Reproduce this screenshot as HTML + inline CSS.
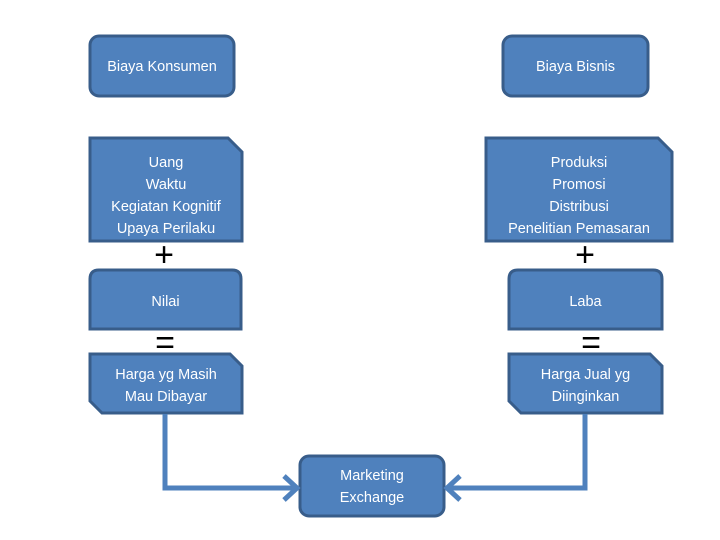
<!DOCTYPE html>
<html><head><style>
body{margin:0;width:720px;height:540px;background:#fff;position:relative;overflow:hidden;font-family:"Liberation Sans",sans-serif}
.t{position:absolute;display:flex;align-items:center;justify-content:center;text-align:center;color:#fff;font-size:14.5px;line-height:22px}
.op{position:absolute;font-size:34px;font-weight:normal;color:#000;line-height:30px;width:30px;text-align:center}
</style></head><body>
<svg width="720" height="540" style="position:absolute;left:0;top:0">
<g fill="#4f81bd" stroke="#385d8a" stroke-width="3">
<rect x="90" y="36" width="144" height="60" rx="9"/>
<rect x="503" y="36" width="145" height="60" rx="9"/>
<path d="M90 138 H228 L242 152 V241 H90 Z"/>
<path d="M486 138 H658 L672 152 V241 H486 Z"/>
<path d="M90 329 V279 Q90 270 99 270 H232 Q241 270 241 279 V329 Z"/>
<path d="M509 329 V279 Q509 270 518 270 H653 Q662 270 662 279 V329 Z"/>
<path d="M90 354 H230 L242 366 V413 H102 L90 401 Z"/>
<path d="M509 354 H650 L662 366 V413 H521 L509 401 Z"/>
<rect x="300" y="456" width="144" height="60" rx="9"/>
</g>
<g fill="none" stroke="#4f81bd" stroke-width="5">
<path d="M165 414 V488 H296"/>
<path d="M284 476 L297 488 L284 500"/>
<path d="M585 414 V488 H448"/>
<path d="M460 476 L447 488 L460 500"/>
</g>
</svg>
<div class="t" style="left:90px;top:36px;width:144px;height:62px">Biaya Konsumen</div>
<div class="t" style="left:503px;top:36px;width:145px;height:62px">Biaya Bisnis</div>
<div class="t" style="left:90px;top:146px;width:152px;height:100px">Uang<br>Waktu<br>Kegiatan Kognitif<br>Upaya Perilaku</div>
<div class="t" style="left:486px;top:146px;width:186px;height:100px">Produksi<br>Promosi<br>Distribusi<br>Penelitian Pemasaran</div>
<div class="op" style="left:149px;top:240px">+</div>
<div class="op" style="left:570px;top:240px">+</div>
<div class="t" style="left:90px;top:272px;width:151px;height:59px">Nilai</div>
<div class="t" style="left:509px;top:272px;width:153px;height:59px">Laba</div>
<div class="op" style="left:150px;top:328px">=</div>
<div class="op" style="left:576px;top:328px">=</div>
<div class="t" style="left:90px;top:356px;width:152px;height:59px">Harga yg Masih<br>Mau Dibayar</div>
<div class="t" style="left:509px;top:356px;width:153px;height:59px">Harga Jual yg<br>Diinginkan</div>
<div class="t" style="left:300px;top:457px;width:144px;height:60px">Marketing<br>Exchange</div>
</body></html>
